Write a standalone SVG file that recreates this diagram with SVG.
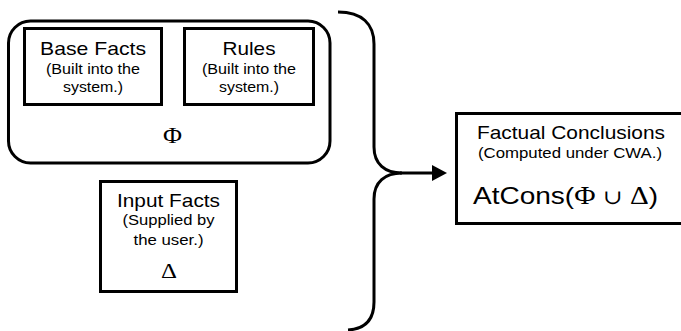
<svg xmlns="http://www.w3.org/2000/svg" width="681" height="331" viewBox="0 0 681 331">
<style>
.box{fill:#fff;stroke:#000;stroke-width:3}
.t{font-family:"Liberation Sans",Arial,sans-serif;fill:#000;text-anchor:middle}
.h{font-size:19px}
.s{font-size:14.5px}
.g{font-family:"Liberation Serif","Times New Roman",serif;fill:#000;text-anchor:middle}
.c{fill:none;stroke:#000;stroke-width:3}
</style>
<defs>
<marker id="ah" markerUnits="userSpaceOnUse" markerWidth="15" markerHeight="16" viewBox="0 0 15 16" refX="8" refY="8" orient="auto">
<path d="M0,0 L15,8 L0,16 z" fill="#000"/>
</marker>
</defs>
<rect width="681" height="331" fill="#fff"/>
<g id="phi">
<rect class="box" x="8.5" y="21" width="321.5" height="142" rx="22" ry="22"/>
<text class="g" x="172.5" y="143" font-size="23" textLength="19" lengthAdjust="spacingAndGlyphs">Φ</text>
</g>
<g id="base-facts">
<rect class="box" x="24.5" y="28.5" width="137" height="76"/>
<text class="t h" x="93" y="55" textLength="106" lengthAdjust="spacingAndGlyphs">Base Facts</text>
<text class="t s" x="93" y="74" textLength="94" lengthAdjust="spacingAndGlyphs">(Built into the</text>
<text class="t s" x="93" y="92" textLength="60" lengthAdjust="spacingAndGlyphs">system.)</text>
</g>
<g id="rules">
<rect class="box" x="184.5" y="28.5" width="129" height="76"/>
<text class="t h" x="249" y="55" textLength="53" lengthAdjust="spacingAndGlyphs">Rules</text>
<text class="t s" x="249" y="74" textLength="94" lengthAdjust="spacingAndGlyphs">(Built into the</text>
<text class="t s" x="249" y="92" textLength="60" lengthAdjust="spacingAndGlyphs">system.)</text>
</g>
<g id="input-facts">
<rect class="box" x="100.5" y="181.5" width="136" height="110"/>
<text class="t h" x="168.5" y="206.5" textLength="103" lengthAdjust="spacingAndGlyphs">Input Facts</text>
<text class="t s" x="168.5" y="225" textLength="92" lengthAdjust="spacingAndGlyphs">(Supplied by</text>
<text class="t s" x="168.5" y="245" textLength="70" lengthAdjust="spacingAndGlyphs">the user.)</text>
<text class="g" x="169" y="278" font-size="21" textLength="16" lengthAdjust="spacingAndGlyphs">Δ</text>
</g>
<g id="conclusions">
<rect class="box" x="456.5" y="113.5" width="230" height="110"/>
<text class="t h" x="571" y="139" textLength="188" lengthAdjust="spacingAndGlyphs">Factual Conclusions</text>
<text class="t s" x="570" y="158" textLength="184" lengthAdjust="spacingAndGlyphs">(Computed under CWA.)</text>
<text x="473" y="204" font-size="24" textLength="185" lengthAdjust="spacingAndGlyphs" style="font-family:'Liberation Sans',Arial,sans-serif"><tspan>AtCons(</tspan><tspan style="font-family:'Liberation Serif','Times New Roman',serif;font-size:25px">Φ</tspan><tspan style="font-family:'DejaVu Serif',serif;font-size:20px"> ∪ </tspan><tspan style="font-family:'Liberation Serif','Times New Roman',serif;font-size:25px">Δ</tspan><tspan>)</tspan></text>
</g>
<g id="connectors">
<path class="c" d="M338,12 C362,12 374,24 374,44 L374,147 C374,164 385,173 402,173 C385,173 374,182 374,199 L374,302 C374,320 365,329 348,330"/>
<line class="c" x1="400" y1="173" x2="440" y2="173" marker-end="url(#ah)"/>
</g>
</svg>
